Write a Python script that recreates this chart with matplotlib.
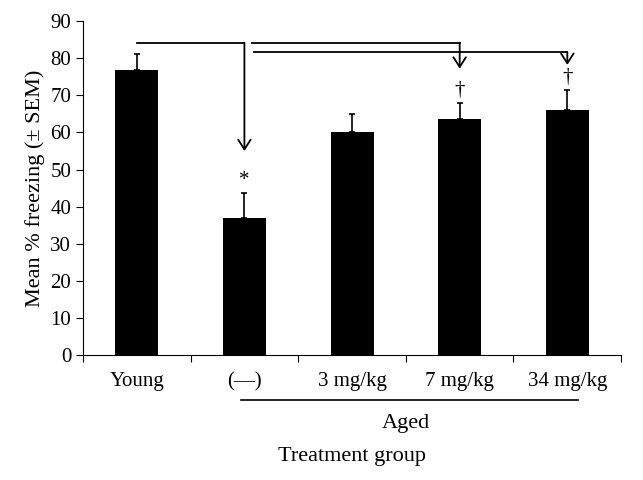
import matplotlib
matplotlib.use("Agg")
import matplotlib.pyplot as plt
import numpy as np

groups = ["Young", "(\u2014)", "3 mg/kg", "7 mg/kg", "34 mg/kg"]
means = [76.8, 37.0, 60.0, 63.7, 66.0]
sems = [4.4, 6.8, 5.0, 4.3, 5.5]
marks = ["", "*", "", "\u2020", "\u2020"]

plt.rcParams["font.family"] = ["Liberation Serif", "DejaVu Serif"]

fig = plt.figure(figsize=(6.43, 4.80), dpi=100)
ax = fig.add_axes([0.129, 0.26, 0.837, 0.696])

x = np.arange(len(groups))
ax.bar(x, means, width=0.4, color="black", zorder=2)
ax.errorbar(x, means, yerr=[np.zeros(len(sems)), sems], fmt="none",
            ecolor="black", elinewidth=1.2, capsize=2, capthick=1.2, zorder=3)

# significance marks above error bars
for xi, m, s, lab in zip(x, means, sems, marks):
    if lab:
        ax.text(xi, m + s + 0.8, lab, ha="center", va="bottom", fontsize=15)

ax.set_xlim(-0.5, 4.5)
ax.set_ylim(0, 90)
ax.set_yticks(range(0, 91, 10))
ax.set_xticks(np.arange(-0.5, 5, 1.0))
ax.set_xticklabels([])
ax.set_xticks(x, minor=True)
ax.set_xticklabels(groups, minor=True)
ax.tick_params(axis="x", which="minor", length=0, pad=12, labelsize=15)
ax.tick_params(axis="x", which="major", length=5, direction="out")
ax.tick_params(axis="y", length=5, direction="out", labelsize=15)
ax.spines["top"].set_visible(False)
ax.spines["right"].set_visible(False)
ax.set_ylabel("Mean % freezing (\u00b1 SEM)", fontsize=16)

# comparison brackets
lw = 1.3
ap = dict(arrowstyle="->,head_length=0.7,head_width=0.45", color="black", lw=lw,
          shrinkA=0, shrinkB=0)
ax.plot([0, 1], [84.2, 84.2], color="black", lw=lw, clip_on=False)
ax.annotate("", xy=(1, 55), xytext=(1, 84.2), arrowprops=ap)
ax.plot([1.07, 3], [84.2, 84.2], color="black", lw=lw, clip_on=False)
ax.annotate("", xy=(3, 77.2), xytext=(3, 84.2), arrowprops=ap)
ax.plot([1.09, 4], [81.7, 81.7], color="black", lw=lw, clip_on=False)
ax.annotate("", xy=(4, 78.2), xytext=(4, 81.7), arrowprops=ap)

# Aged bracket under labels
trans = ax.get_xaxis_transform()
ax.plot([0.97, 4.1], [-0.135, -0.135], color="black", lw=1.2,
        transform=trans, clip_on=False)
ax.text(2.5, -0.175, "Aged", transform=trans, ha="center", va="top", fontsize=16)
ax.text(2.0, -0.275, "Treatment group", transform=trans, ha="center",
        va="top", fontsize=16)

fig.savefig("out.png", dpi=100)
